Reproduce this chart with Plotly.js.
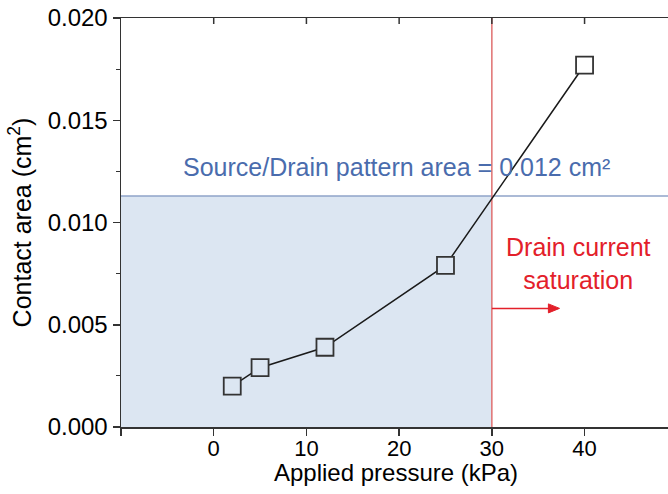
<!DOCTYPE html>
<html>
<head>
<meta charset="utf-8">
<script src="https://cdn.plot.ly/plotly-3.0.1.min.js"></script>
<style>html,body{margin:0;padding:0;background:#fff;}#chart{width:668px;height:494px;}</style>
</head>
<body>
<div id="chart"></div>
<script>
// Data
const pressure = [2, 5, 12, 25, 40];                            // kPa
const contactArea = [0.0020, 0.0029, 0.0039, 0.0079, 0.0177];   // cm^2
const xTickVals = [0, 10, 20, 30, 40];
const xTickText = ['0', '10', '20', '30', '40'];
const yTickVals = [0, 0.005, 0.010, 0.015, 0.020];
const yTickText = ['0.000', '0.005', '0.010', '0.015', '0.020'];
const satPressure = 30;      // kPa, drain current saturation
const patternArea = 0.0113;  // level of the source/drain area line

const FONT = 'Liberation Sans, Arial, sans-serif';
const shadeColor = '#dce6f2';
const red = '#e3202a';
const markerFill = contactArea.map(v => v < patternArea ? shadeColor : '#ffffff');

const xMin = -10, xMax = 49, yMin = 0, yMax = 0.020;

const trace = {
  x: pressure, y: contactArea,
  type: 'scatter', mode: 'lines+markers',
  line: {color: '#1a1a1a', width: 1.5},
  marker: {symbol: 'square', size: 17, color: markerFill, line: {color: '#333333', width: 1.8}},
  showlegend: false, hoverinfo: 'skip'
};

// arrow geometry (data units)
const arrowY = 0.0058, arrowTip = 37.3, headLen = 1.2, headHalf = 0.00022;

// inward ticks on the top frame line
const topTicks = xTickVals.map(v => ({
  type: 'line', xref: 'x', yref: 'paper', ysizemode: 'pixel', yanchor: 1,
  x0: v, x1: v, y0: 0, y1: -6, line: {color: '#333', width: 1.5}
}));

const layout = {
  width: 668, height: 494,
  margin: {l: 121, r: 0, t: 18, b: 67},
  paper_bgcolor: '#ffffff', plot_bgcolor: '#ffffff',
  font: {family: FONT, color: '#000'},
  xaxis: {
    range: [xMin, xMax], tickvals: xTickVals, ticktext: xTickText,
    ticks: 'outside', ticklen: 7, tickwidth: 1.5, tickcolor: '#333',
    minor: {tickvals: [xMin], ticks: 'outside', ticklen: 7, tickwidth: 1.5, tickcolor: '#333', showgrid: false},
    ticklabelstandoff: -6,
    showline: true, mirror: true, linecolor: '#333', linewidth: 1.5,
    showgrid: false, zeroline: false,
    tickfont: {family: FONT, size: 22, color: '#000'}
  },
  yaxis: {
    range: [yMin, yMax], tickvals: yTickVals, ticktext: yTickText,
    ticks: 'outside', ticklen: 7, tickwidth: 1.5, tickcolor: '#333',
    minor: {dtick: 0.0025, tick0: 0, ticks: 'outside', ticklen: 4, tickwidth: 1.2, tickcolor: '#333', showgrid: false},
    showline: true, linecolor: '#333', linewidth: 1.5,
    showgrid: false, zeroline: false,
    tickfont: {family: FONT, size: 24, color: '#000'},
    title: {text: 'Contact area (cm<sup>2</sup>)', font: {family: FONT, size: 25, color: '#000'}, standoff: 9}
  },
  shapes: [
    {type: 'rect', xref: 'x', yref: 'y', x0: xMin, x1: satPressure, y0: 0, y1: patternArea,
     fillcolor: shadeColor, line: {width: 0}, layer: 'below'},
    {type: 'line', xref: 'x', yref: 'y', x0: xMin, x1: xMax, y0: patternArea, y1: patternArea,
     line: {color: '#8fa3c8', width: 1.5}, layer: 'below'},
    {type: 'line', xref: 'x', yref: 'y', x0: satPressure, x1: satPressure, y0: yMin, y1: yMax,
     line: {color: '#e07070', width: 1.5}, layer: 'below'},
    {type: 'line', xref: 'x', yref: 'y', x0: satPressure, x1: arrowTip - headLen * 0.5, y0: arrowY, y1: arrowY,
     line: {color: red, width: 1.5}},
    {type: 'path', xref: 'x', yref: 'y',
     path: `M ${arrowTip},${arrowY} L ${arrowTip - headLen},${arrowY + headHalf} L ${arrowTip - headLen},${arrowY - headHalf} Z`,
     fillcolor: red, line: {color: red, width: 1}}
  ].concat(topTicks),
  annotations: [
    {xref: 'paper', yref: 'paper', x: 0.503, y: -0.112, xanchor: 'center', yanchor: 'middle',
     showarrow: false, text: 'Applied pressure (kPa)',
     font: {family: FONT, size: 24, color: '#000'}},
    {xref: 'x', yref: 'y', x: 19.7, y: 0.0127, showarrow: false,
     text: 'Source/Drain pattern area = 0.012 cm²',
     font: {family: FONT, size: 25, color: '#4a6cad'}},
    {xref: 'x', yref: 'y', x: 39.3, y: 0.0080, showarrow: false,
     text: 'Drain current<br>saturation', align: 'center',
     font: {family: FONT, size: 25, color: red}}
  ]
};

Plotly.newPlot('chart', [trace], layout, {displayModeBar: false, staticPlot: true});
</script>
</body>
</html>
